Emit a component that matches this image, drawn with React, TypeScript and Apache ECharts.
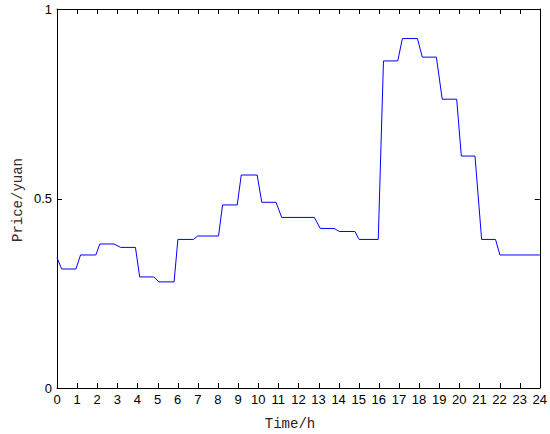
import React, { useEffect, useRef } from "react";
import * as echarts from "echarts";

const times = [0, 0.23, 0.94, 1.17, 1.93, 2.13, 2.83, 3.17, 3.9, 4.11, 4.81, 5.07, 5.82, 6.01, 6.79, 6.99, 8.03, 8.23, 8.96, 9.16, 9.95, 10.18, 10.89, 11.17, 12.79, 13.09, 13.78, 14.03, 14.81, 15.02, 15.97, 16.23, 16.94, 17.17, 17.92, 18.16, 18.86, 19.15, 19.87, 20.1, 20.78, 21.11, 21.8, 22.02, 24];
const prices = [0.344, 0.314, 0.314, 0.351, 0.351, 0.38, 0.38, 0.371, 0.371, 0.293, 0.293, 0.28, 0.28, 0.392, 0.392, 0.401, 0.401, 0.483, 0.483, 0.562, 0.562, 0.49, 0.49, 0.45, 0.45, 0.421, 0.421, 0.413, 0.413, 0.392, 0.392, 0.863, 0.863, 0.922, 0.922, 0.873, 0.873, 0.762, 0.762, 0.612, 0.612, 0.392, 0.392, 0.351, 0.351];
const xTicks = [0, 1, 2, 3, 4, 5, 6, 7, 8, 9, 10, 11, 12, 13, 14, 15, 16, 17, 18, 19, 20, 21, 22, 23, 24];
const yTicks = [0, 0.5, 1];
const xName = "Time/h";
const yName = "Price/yuan";

export default function App() {
  const ref = useRef<HTMLDivElement>(null);
  useEffect(() => {
    if (!ref.current) return;
    const chart = echarts.init(ref.current, undefined, { renderer: "svg" });
    const data = times.map((t, i) => [t, prices[i]]);
    const mkLine = () => ({ show: true, onZero: false, lineStyle: { color: "#000", width: 1 } });
    const labelFont = { color: "#000", fontFamily: "Liberation Sans, Arial, sans-serif", fontSize: 13 };
    const TL = 5;
    const tickStyle = { stroke: "#000", lineWidth: 1 };
    chart.setOption({
      animation: false,
      backgroundColor: "#fff",
      grid: { left: 57, right: 9, top: 9, bottom: 46, containLabel: false },
      xAxis: [
        {
          type: "value", min: 0, max: 24, interval: 1, position: "bottom",
          axisLine: mkLine(), axisTick: { show: false }, splitLine: { show: false },
          axisLabel: { ...labelFont, margin: 5, showMinLabel: true, showMaxLabel: true },
        },
        {
          type: "value", min: 0, max: 24, interval: 1, position: "top",
          axisLine: mkLine(), axisTick: { show: false }, splitLine: { show: false }, axisLabel: { show: false },
        },
      ],
      yAxis: [
        {
          type: "value", min: 0, max: 1, interval: 0.5, position: "left",
          axisLine: mkLine(), axisTick: { show: false }, splitLine: { show: false },
          axisLabel: { ...labelFont, margin: 5 },
        },
        {
          type: "value", min: 0, max: 1, interval: 0.5, position: "right",
          axisLine: mkLine(), axisTick: { show: false }, splitLine: { show: false }, axisLabel: { show: false },
        },
      ],
      graphic: [
        {
          type: "text", x: 290, y: 424,
          style: { text: xName, fontFamily: "Liberation Mono, monospace", fontSize: 14, fill: "#2a2222", align: "center", verticalAlign: "middle" },
        },
        {
          type: "text", x: 18, y: 200, rotation: Math.PI / 2,
          style: { text: yName, fontFamily: "Liberation Mono, monospace", fontSize: 14, fill: "#3a2626", align: "center", verticalAlign: "middle" },
        },
      ],
      series: [
        {
          type: "custom", xAxisIndex: 0, yAxisIndex: 0, silent: true, clip: false,
          data: xTicks.map((t) => [t, 0]),
          renderItem: (params: any, api: any) => {
            const t = api.value(0);
            const b = api.coord([t, 0]);
            const tp = api.coord([t, 1]);
            const x = Math.round(b[0]) + 0.5;
            return {
              type: "group",
              children: [
                { type: "line", shape: { x1: x, y1: b[1], x2: x, y2: b[1] - TL }, style: tickStyle },
                { type: "line", shape: { x1: x, y1: tp[1], x2: x, y2: tp[1] + TL }, style: tickStyle },
              ],
            };
          },
        },
        {
          type: "custom", xAxisIndex: 0, yAxisIndex: 0, silent: true, clip: false,
          data: yTicks.map((v) => [0, v]),
          renderItem: (params: any, api: any) => {
            const v = api.value(1);
            const l = api.coord([0, v]);
            const r = api.coord([24, v]);
            const y = Math.round(l[1]) + 0.5;
            return {
              type: "group",
              children: [
                { type: "line", shape: { x1: l[0], y1: y, x2: l[0] + TL, y2: y }, style: tickStyle },
                { type: "line", shape: { x1: r[0], y1: y, x2: r[0] - TL, y2: y }, style: tickStyle },
              ],
            };
          },
        },
        {
          type: "line", data, showSymbol: false, symbol: "none",
          lineStyle: { color: "#0000ff", width: 1 }, xAxisIndex: 0, yAxisIndex: 0,
        },
      ],
    });
    return () => chart.dispose();
  }, []);
  return <div ref={ref} style={{ position: "fixed", left: 0, top: 0, width: 550, height: 434 }} />;
}
